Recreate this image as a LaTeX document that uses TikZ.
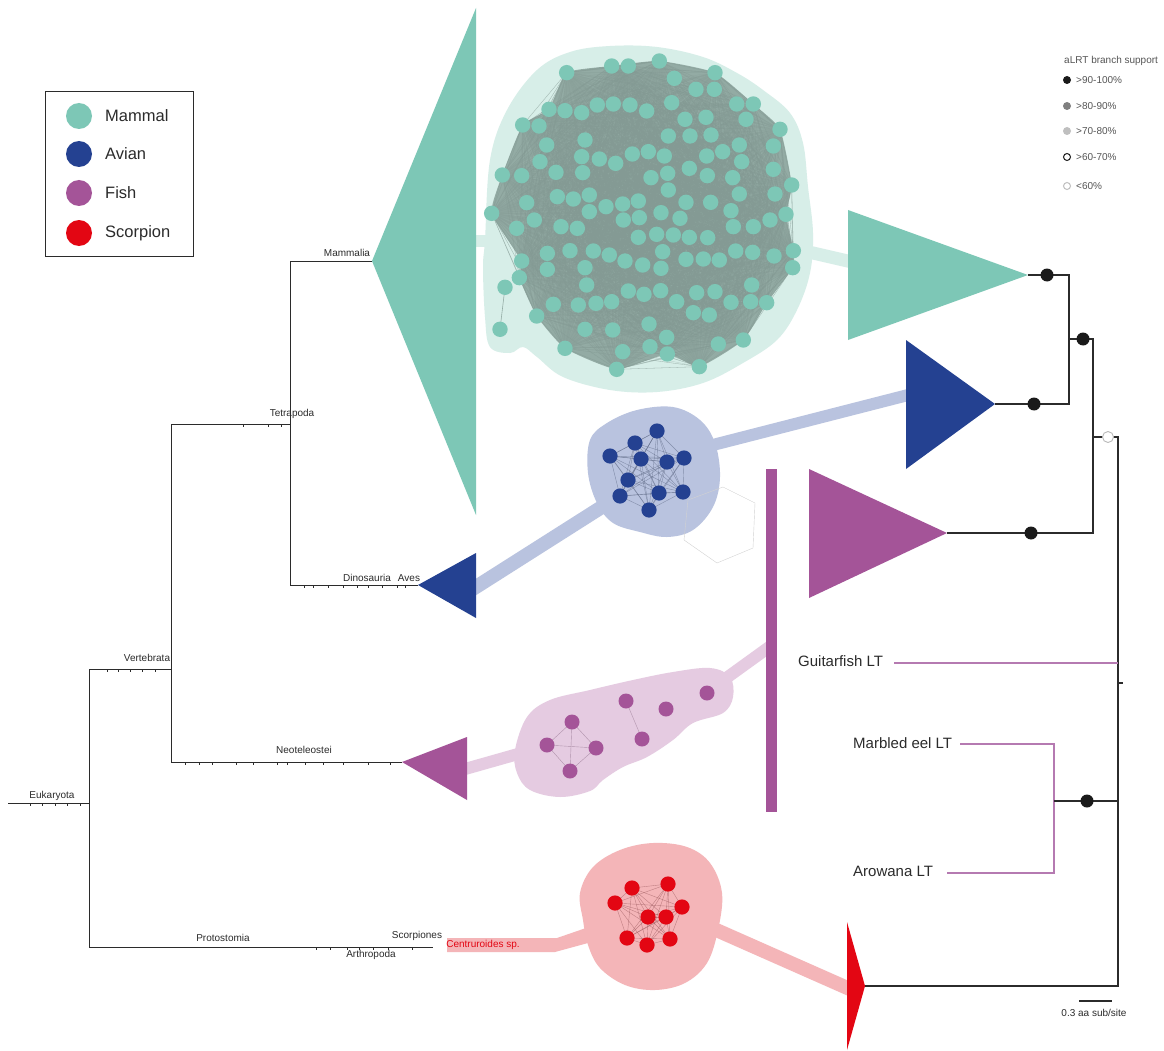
\documentclass[tikz,border=0pt]{standalone}
\usepackage{fontspec}
\setmainfont{Liberation Sans}
\newcommand\myfs[1]{\fontsize{#1}{#1}\selectfont}
\definecolor{mam}{HTML}{7DC7B6}
\definecolor{mamblob}{HTML}{D7EEE8}
\definecolor{mesh}{HTML}{93ABA4}
\definecolor{avi}{HTML}{244191}
\definecolor{aviblob}{HTML}{B9C3DF}
\definecolor{fish}{HTML}{A45498}
\definecolor{fishblob}{HTML}{E5CBE1}
\definecolor{fishline}{HTML}{B57AB1}
\definecolor{scor}{HTML}{E30613}
\definecolor{scorblob}{HTML}{F4B5B8}
\definecolor{treeline}{HTML}{2B2B2B}
\definecolor{dotblack}{HTML}{1A1A1A}
\begin{document}
\begin{tikzpicture}[x=1pt,y=-1pt,
  ltree/.style={draw=treeline,line width=0.8pt},
  rtree/.style={draw=treeline,line width=1.1pt},
  tick/.style={draw=treeline,line width=0.5pt},
  lab/.style={font=\myfs{10},inner sep=0pt,text=treeline},
  big/.style={font=\myfs{15},inner sep=0pt,text=treeline},
  leg/.style={font=\myfs{16.5},inner sep=0pt,anchor=west,text=treeline},
  sup/.style={font=\myfs{10},inner sep=0pt,anchor=west,text=treeline!80},
  supdot/.style={circle,inner sep=0pt,minimum size=8pt},
  bdot/.style={circle,fill=dotblack,inner sep=0pt,minimum size=13pt},
  fline/.style={draw=fishline,line width=1.2pt},
  meshline/.style={draw=mesh!90!black,line width=0.3pt,opacity=0.4},
  netedge/.style={line width=0.4pt,opacity=0.6}]
\path[use as bounding box,fill=white] (0,0) rectangle (1164,1051);

% ---------- mammal network ----------
\fill[mamblob] plot[smooth cycle,tension=0.6] coordinates {(485,240) (490,160) (507,110) (537,70) (570,52) (610,46) (657,47) (703,57) (737,73) (763,90) (790,113) (803,143) (808,187) (813,233) (810,273) (797,310) (777,340) (743,363) (703,383) (657,392) (610,390) (563,377) (537,357) (523,347) (510,353) (490,347) (485,317) (483,267)};
\draw[mamblob,line width=12pt] (474,241) -- (495,241);
\draw[mamblob,line width=13pt] (800,250) -- (852,262);
\fill[mesh] plot[smooth cycle,tension=0.3] coordinates {(566.7,72.7) (611.7,66) (659.3,61) (715,72.7) (753.3,104) (780,129.3) (791.7,185) (786,214.3) (793.3,250.7) (792.7,267.7) (766.7,302.7) (743.3,340) (699.3,366.7) (667.3,354) (616.7,369.3) (565,348.3) (536.7,316) (519.3,277.7) (521.7,261) (491.7,213.3) (502.3,175) (522.7,125) (549,109.3)};
\def\mamnodes{290/218, 425/198, 475/198, 568/183, 735/218, 613/235, 678/268, 733/268, 800/312, 850/312, 828/358, 930/388, 910/438, 910/508, 965/555, 915/582, 948/643, 900/660, 970/752, 968/803, 912/768, 848/757, 797/753, 845/855, 890/908, 842/905, 783/907, 820/1020, 745/1032, 688/1100, 718/945, 670/938, 680/878, 735/875, 620/905, 590/1012, 592/1062, 540/1040, 537/972, 440/1108, 458/1055, 428/990, 345/988, 285/1045, 200/948, 250/913, 325/915, 378/910, 425/905, 475/873, 522/883, 572/872, 148/833, 155/783, 232/808, 232/760, 300/752, 370/753, 418/765, 465/783, 518/795, 573/805, 578/755, 505/712, 560/703, 610/705, 658/712, 713/713, 648/778, 700/777, 748/780, 345/803, 350/855, 140/685, 193/660, 65/640, 170/608, 262/590, 310/597, 358/585, 358/635, 408/620, 458/612, 505/603, 460/660, 508/653, 573/638, 630/655, 648/607, 722/607, 783/632, 790/680, 850/680, 808/582, 788/533, 815/485, 808/435, 758/455, 710/468, 712/527, 658/505, 593/520, 543/533, 595/570, 583/468, 535/455, 487/462, 437/490, 388/477, 335/470, 338/518, 345/420, 258/517, 210/485, 230/435, 155/527, 97/525, 158/375, 207/378, 237/328, 285/332, 335/338, 382/315, 430/312, 480/315, 530/333, 605/308, 645/358, 708/352, 723/405, 660/408, 595/408, 273/680, 322/685}
\foreach \a/\b in {290/218, 425/198, 475/198, 568/183, 735/218, 850/312, 930/388, 965/555, 948/643, 970/752, 968/803, 890/908, 820/1020, 745/1032, 688/1100, 592/1062, 440/1108, 285/1045, 200/948, 148/833, 155/783, 65/640, 97/525, 158/375, 237/328}
  \draw[meshline] foreach \c/\d in \mamnodes {({470+\a/3},{\b/3}) -- ({470+\c/3},{\d/3})};
\draw[mesh,line width=0.6pt] (505,287.3) -- (500,329.3);
\foreach \a/\b in \mamnodes \fill[mam] ({470+\a/3},{\b/3}) circle (7.7pt);
\fill[mam] (505,287.3) circle (7.7pt);
\fill[mam] (500,329.3) circle (7.7pt);

% ---------- avian network ----------
\draw[aviblob,line width=14pt] (468,592) -- (605,505);
\draw[aviblob,line width=12pt] (705,447) -- (912,394);
\fill[aviblob] plot[smooth cycle,tension=0.6] coordinates {(590,440) (607,423) (637,410) (673,407) (700,420) (715,443) (720,477) (713,507) (693,530) (667,537) (640,532) (613,523) (597,503) (588,473)};
\foreach \x/\y [count=\i] in {657/431, 635/443, 610/456, 641/459, 667/462, 684/458, 628/480, 620/496, 659/493, 683/492, 649/510}
  \coordinate (av\i) at (\x,\y);
\foreach \i in {1,...,11}
  \foreach \j in {\i,...,11}
    \draw[netedge,draw=avi!35!gray] (av\i) -- (av\j);
\foreach \i in {1,...,11} \fill[avi] (av\i) circle (7.6pt);
\draw[gray!35,line width=0.4pt] (723,487) -- (755,503) -- (753,548) -- (717,563) -- (684,540) -- (688,500) -- cycle;

% ---------- fish network ----------
\draw[fishblob,line width=12pt] (458,771) -- (525,752);
\draw[fishblob,line width=12pt] (718,684) -- (772,645);
\fill[fishblob] plot[smooth cycle,tension=0.6] coordinates {(515,750) (527,717) (550,700) (590,690) (633,680) (673,672) (710,668) (730,677) (733,697) (723,713) (693,723) (673,740) (647,757) (623,767) (603,780) (590,791) (560,797) (530,790) (517,773)};
\foreach \x/\y [count=\i] in {572/722, 547/745, 596/748, 570/771, 626/701, 642/739, 666/709, 707/693}
  \coordinate (fi\i) at (\x,\y);
\draw[netedge,draw=fish!40!gray] (fi1) -- (fi2) (fi1) -- (fi3) (fi1) -- (fi4) (fi2) -- (fi3) (fi2) -- (fi4) (fi3) -- (fi4) (fi5) -- (fi6);
\foreach \i in {1,...,8} \fill[fish] (fi\i) circle (7.5pt);
\fill[fish] (766,469) rectangle (777,812);

% ---------- scorpion network ----------
\fill[scorblob] (447,938) -- (557,938) -- (586,928) -- (588,943) -- (555,952) -- (447,952) -- cycle;
\draw[scorblob,line width=14pt] (705,925) -- (852,990);
\fill[scorblob] plot[smooth cycle,tension=0.6] coordinates {(580,893) (593,867) (620,850) (653,843) (687,847) (710,863) (722,893) (718,930) (707,963) (685,983) (655,990) (625,985) (600,968) (588,945) (583,920)};
\foreach \x/\y [count=\i] in {632/888, 668/884, 615/903, 682/907, 648/917, 666/917, 627/938, 647/945, 670/939}
  \coordinate (sc\i) at (\x,\y);
\foreach \i in {1,...,9}
  \foreach \j in {\i,...,9}
    \draw[netedge,draw=scor!30!gray] (sc\i) -- (sc\j);
\foreach \i in {1,...,9} \fill[scor] (sc\i) circle (7.6pt);
\node[font=\myfs{10},text=scor,inner sep=0pt] (centr) at (483,945) {Centruroides sp.};

% ---------- collapsed clades ----------
\fill[mam] (372,261) -- (476,8) -- (476,515) -- cycle;
\fill[avi] (418,585) -- (476,553) -- (476,618) -- cycle;
\fill[fish] (402,762) -- (467,737) -- (467,800) -- cycle;
\fill[mam] (848,210) -- (1028,275) -- (848,340) -- cycle;
\fill[avi] (906,340) -- (995,404) -- (906,469) -- cycle;
\fill[fish] (809,469) -- (947,533) -- (809,598) -- cycle;
\fill[scor] (847,922) -- (865,986) -- (847,1050) -- cycle;

% ---------- left (species) tree ----------
\coordinate (eu0) at (8,803);
\coordinate (eu) at (89,803);
\coordinate (ve) at (171,669);
\coordinate (te) at (290,424);
\coordinate (mamL) at (372,261);
\coordinate (avL) at (418,585);
\coordinate (fiL) at (402,762);
\coordinate (prL) at (433,947);
\draw[ltree] (eu0) -- (eu);
\draw[ltree] (eu |- ve) -- (eu |- prL);
\draw[ltree] (eu |- ve) -- (ve);
\draw[ltree] (ve |- te) -- (ve |- fiL);
\draw[ltree] (ve |- te) -- (te);
\draw[ltree] (te |- mamL) -- (te |- avL);
\draw[ltree] (te |- mamL) -- (mamL);
\draw[ltree] (te |- avL) -- (avL);
\draw[ltree] (ve |- fiL) -- (fiL);
\draw[ltree] (eu |- prL) -- (prL);
\foreach \x in {30,42,55,67,80} \draw[tick] (\x,803) -- (\x,805.5);
\foreach \x in {107,118,130,142,155} \draw[tick] (\x,669) -- (\x,671.5);
\foreach \x in {243,268,281} \draw[tick] (\x,424) -- (\x,426.5);
\foreach \x in {304,313,328,343,357,368,382,397,405} \draw[tick] (\x,585) -- (\x,587.5);
\foreach \x in {185,199,212,236,253,277,287,305,323,343,368,390} \draw[tick] (\x,762) -- (\x,764.5);
\foreach \x in {316,330,347,359,373,388,412} \draw[tick] (\x,947) -- (\x,949.5);
\node[lab] (leu) at (52,796) {Eukaryota};
\node[lab] (lve) at (147,658) {Vertebrata};
\node[lab] (lte) at (292,414) {Tetrapoda};
\node[lab] (lma) at (347,253) {Mammalia};
\node[lab] (ldi) at (367,578) {Dinosauria};
\node[lab] (lav) at (409,578) {Aves};
\node[lab] (lne) at (304,750) {Neoteleostei};
\node[lab] (lpr) at (223,938) {Protostomia};
\node[lab] (lsc) at (417,936) {Scorpiones};
\node[lab] (lar) at (371,955) {Arthropoda};

% ---------- right (gene) tree ----------
\coordinate (mamT) at (1028,275);
\coordinate (avT) at (995,404);
\coordinate (fiT) at (947,533);
\coordinate (scT) at (865,986);
\coordinate (n1) at (1069,339);
\coordinate (n2) at (1093,437);
\coordinate (rt) at (1118,437);
\draw[rtree] (mamT) -- (n1 |- mamT) -- (n1 |- avT) -- (avT);
\draw[rtree] (n1) -- (n2 |- n1) -- (n2 |- fiT) -- (fiT);
\draw[rtree] (n2) -- (rt) -- (rt |- scT) -- (scT);
\draw[rtree] (1118,683) -- (1123,683);
\node[big,anchor=west] (gui) at (798,661) {Guitarfish LT};
\node[big,anchor=west] (mar) at (853,743) {Marbled eel LT};
\node[big,anchor=west] (aro) at (853,871) {Arowana LT};
\coordinate (ej) at (1054,801);
\draw[fline] (894,663) -- (rt |- 894,663);
\draw[fline] (960,744) -- (ej |- 960,744) -- (ej |- 947,873) -- (947,873);
\draw[rtree] (ej) -- (rt |- ej);
\node[bdot] (d1) at (1047,275) {};
\node[bdot] (d2) at (1034,404) {};
\node[bdot] (d3) at (1083,339) {};
\node[bdot] (d4) at (1031,533) {};
\node[bdot] (d5) at (1087,801) {};
\node[circle,draw=gray!55,fill=white,line width=0.9pt,inner sep=0pt,minimum size=11pt] (d6) at (1108,437) {};

% scale bar
\draw[line width=1.2pt,treeline] (1079,1001) -- (1112,1001);
\node[lab] (scale) at (1094,1013) {0.3 aa sub/site};

% ---------- legends ----------
\draw[line width=1pt,treeline] (45,92) rectangle (193,256);
\fill[mam] (79,116) circle (13pt);
\fill[avi] (79,154) circle (13pt);
\fill[fish] (79,193) circle (13pt);
\fill[scor] (79,233) circle (13pt);
\node[leg] (lg1) at (105,116) {Mammal};
\node[leg] (lg2) at (105,154) {Avian};
\node[leg] (lg3) at (105,193) {Fish};
\node[leg] (lg4) at (105,233) {Scorpion};

\node[sup] (suph) at (1064,61) {aLRT branch support};
\node[supdot,fill=dotblack] (s1) at (1067,80) {};
\node[supdot,fill=gray] (s2) at (1067,106) {};
\node[supdot,fill=gray!50] (s3) at (1067,131) {};
\node[circle,draw=dotblack,line width=1pt,inner sep=0pt,minimum size=7pt] (s4) at (1067,157) {};
\node[circle,draw=gray!50,line width=1pt,inner sep=0pt,minimum size=7pt] (s5) at (1067,186) {};
\node[sup] (t1) at (1076,80) {>90-100\%};
\node[sup] (t2) at (1076,106) {>80-90\%};
\node[sup] (t3) at (1076,131) {>70-80\%};
\node[sup] (t4) at (1076,157) {>60-70\%};
\node[sup] (t5) at (1076,186) {<60\%};
\end{tikzpicture}
\end{document}
